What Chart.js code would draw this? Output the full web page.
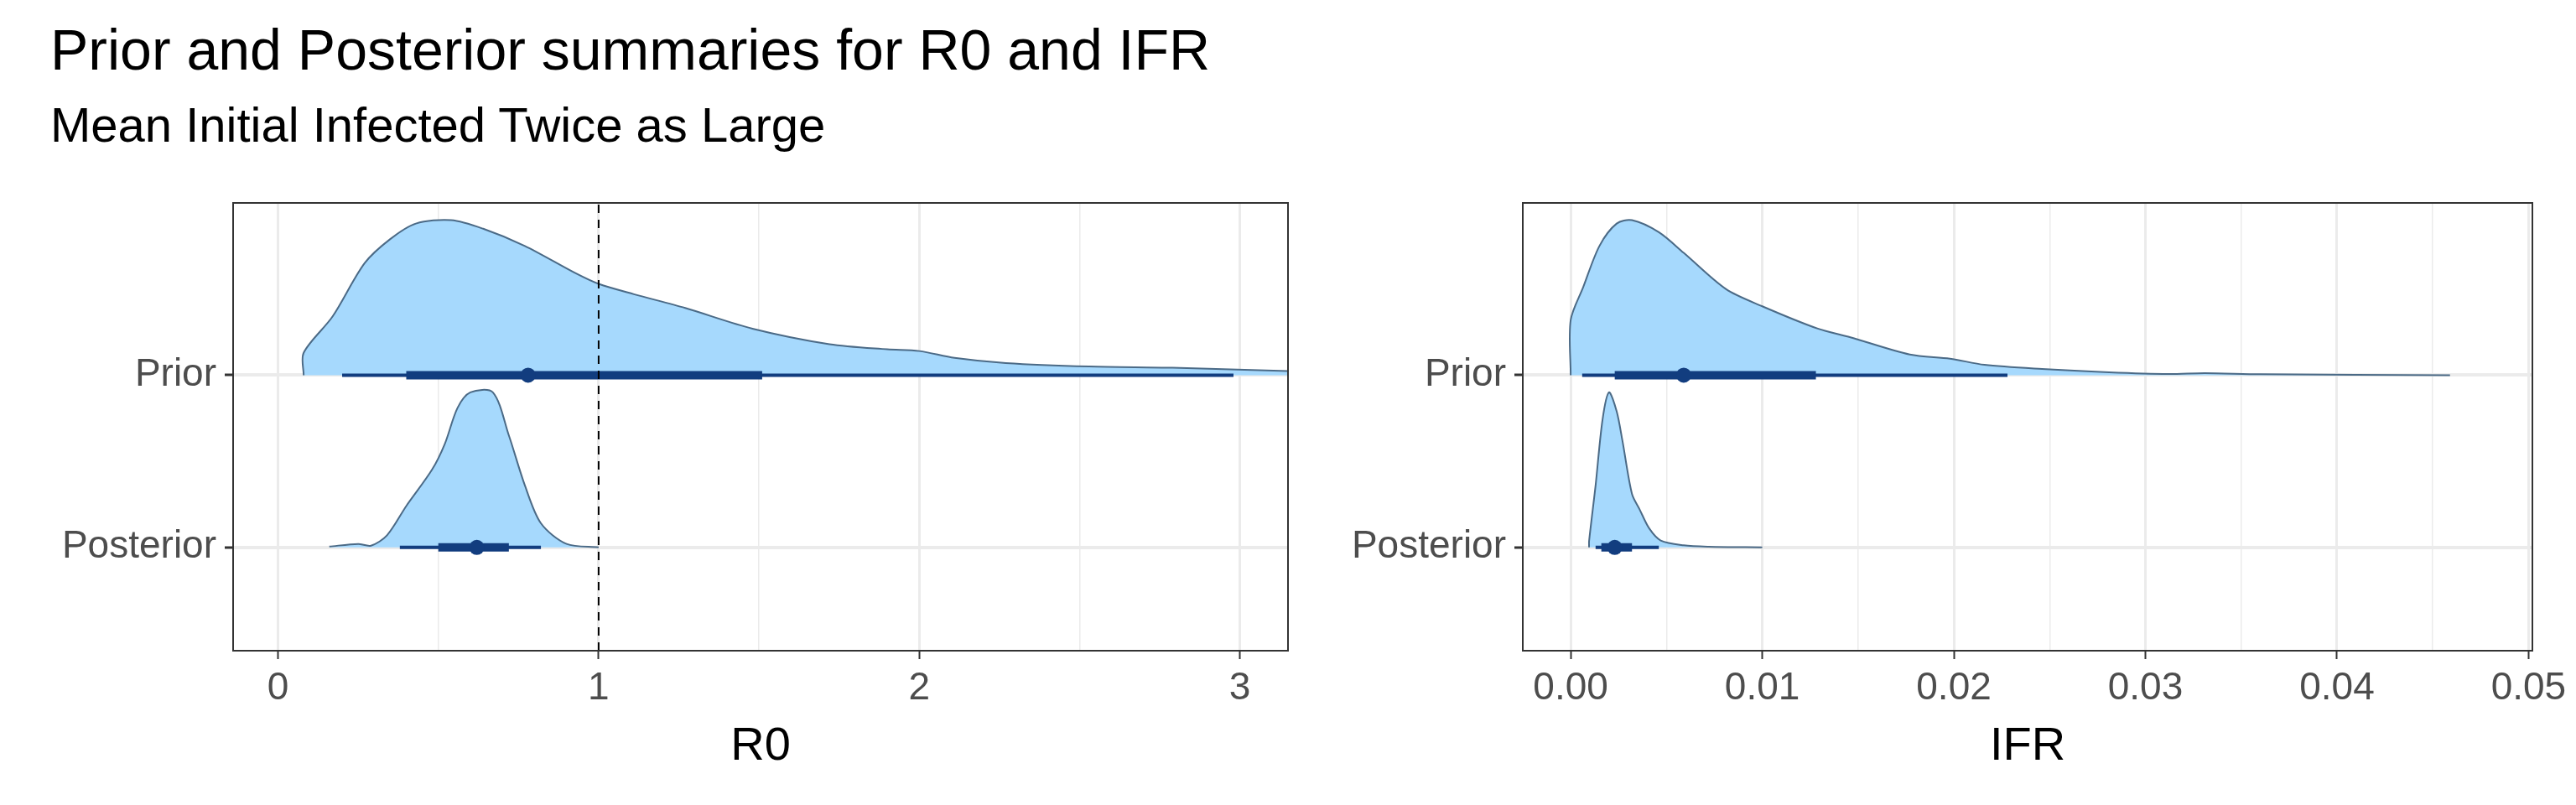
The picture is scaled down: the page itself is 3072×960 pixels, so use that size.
<!DOCTYPE html>
<html>
<head>
<meta charset="utf-8">
<script src="https://cdn.jsdelivr.net/npm/chart.js@4"></script>
<style>
  body { margin:0; width:3072px; height:960px; background:#fff; position:relative; overflow:hidden; font-family:"Liberation Sans", Arial, sans-serif; }
  .t { position:absolute; left:60px; white-space:nowrap; color:#000; line-height:1.15; }
  #c1box { position:absolute; left:0; top:0; width:1546px; height:960px; }
  #c2box { position:absolute; left:1546px; top:0; width:1526px; height:960px; }
</style>
</head>
<body>
<div class="t" style="top:20px;font-size:68px;">Prior and Posterior summaries for R0 and IFR</div>
<div class="t" style="top:116px;font-size:58px;">Mean Initial Infected Twice as Large</div>
<div id="c1box"><canvas id="c1"></canvas></div>
<div id="c2box"><canvas id="c2"></canvas></div>
<script>
// categories (y positions: Posterior = 1, Prior = 2)
const categories = ["Posterior", "Prior"];

// R0 densities (x, scaled height)
const r0PriorX = [0.08, 0.08, 0.17, 0.27, 0.35, 0.43, 0.54, 0.64, 0.77, 0.93, 1.0, 1.11, 1.27, 1.48, 1.72, 1.90, 2.0, 2.11, 2.27, 2.53, 2.79, 3.15, 3.3];
const r0PriorH = [0, 0.13, 0.34, 0.65, 0.79, 0.88, 0.90, 0.85, 0.75, 0.59, 0.53, 0.47, 0.39, 0.27, 0.18, 0.15, 0.14, 0.10, 0.07, 0.05, 0.043, 0.024, 0.02];
const r0PostX = [0.16, 0.25, 0.29, 0.34, 0.40, 0.48, 0.52, 0.56, 0.60, 0.67, 0.72, 0.77, 0.82, 0.90, 1.0];
const r0PostH = [0.005, 0.02, 0.01, 0.07, 0.24, 0.45, 0.60, 0.81, 0.90, 0.90, 0.65, 0.36, 0.14, 0.02, 0];
// R0 intervals: [thin lo, thin hi, thick lo, thick hi, point]
const r0PriorInt = [0.2, 2.98, 0.4, 1.51, 0.78];
const r0PostInt = [0.38, 0.82, 0.5, 0.72, 0.62];

// IFR densities
const ifrPriorX = [0, 0, 0.00065, 0.0015, 0.0024, 0.0032, 0.0046, 0.0059, 0.0081, 0.01, 0.0129, 0.0146, 0.0177, 0.0198, 0.0216, 0.0246, 0.0281, 0.0312, 0.0331, 0.036, 0.0459];
const ifrPriorH = [0, 0.32, 0.51, 0.75, 0.88, 0.90, 0.83, 0.71, 0.50, 0.40, 0.27, 0.22, 0.12, 0.096, 0.06, 0.036, 0.017, 0.007, 0.012, 0.005, 0];
const ifrPostX = [0.00096, 0.00096, 0.0013, 0.00166, 0.002, 0.0024, 0.0027, 0.0032, 0.0036, 0.0041, 0.0047, 0.0059, 0.0072, 0.01];
const ifrPostH = [0, 0.036, 0.36, 0.74, 0.90, 0.79, 0.62, 0.31, 0.22, 0.11, 0.04, 0.012, 0.004, 0];
const ifrPriorInt = [0.0006, 0.0228, 0.0023, 0.0128, 0.0059];
const ifrPostInt = [0.0013, 0.0046, 0.0016, 0.0032, 0.0023];

// tick labels
const r0Ticks = [0, 0.5, 1, 1.5, 2, 2.5, 3];
const ifrTicks = [0, 0.005, 0.01, 0.015, 0.02, 0.025, 0.03, 0.035, 0.04, 0.045, 0.05];

const FILL = "#a6d9fd", EDGE = "#4b6a86", BLUE = "#123d7f";

function density(xs, hs, base) {
  return {
    type: "line", data: xs.map((x, i) => ({x: x, y: base + hs[i]})),
    borderColor: EDGE, borderWidth: 2, backgroundColor: FILL,
    fill: {value: base}, pointRadius: 0, tension: 0.3, order: 5, clip: 0
  };
}
function intervals(iv, base) {
  return [
    {type: "line", data: [{x: iv[0], y: base}, {x: iv[1], y: base}], borderColor: BLUE, borderWidth: 4, pointRadius: 0, order: 2, clip: 0},
    {type: "line", data: [{x: iv[2], y: base}, {x: iv[3], y: base}], borderColor: BLUE, borderWidth: 10, pointRadius: 0, order: 1, clip: 0},
    {type: "scatter", data: [{x: iv[4], y: base}], backgroundColor: BLUE, borderWidth: 0, pointRadius: 9, order: 0}
  ];
}

const frame = {
  id: "frame",
  afterDraw(chart) {
    const a = chart.chartArea, ctx = chart.ctx;
    ctx.save(); ctx.strokeStyle = "#333"; ctx.lineWidth = 2;
    ctx.strokeRect(a.left, a.top, a.right - a.left, a.bottom - a.top);
    ctx.restore();
  }
};

function makeChart(id, datasets, xmin, xmax, ticks, major, fmt, title, yw, padRight) {
  return new Chart(id, {
    data: {datasets: datasets},
    plugins: [frame],
    options: {
      responsive: true, maintainAspectRatio: false, animation: false, devicePixelRatio: 1,
      layout: {padding: {top: 242, right: padRight, left: 0, bottom: 0}},
      plugins: {legend: {display: false}, tooltip: {enabled: false}},
      scales: {
        x: {
          type: "linear", min: xmin, max: xmax,
          afterBuildTicks: s => { s.ticks = ticks.map(v => ({value: v})); },
          afterFit: s => { s.height = 184; },
          grid: {
            color: "#ebebeb", drawTicks: true, tickLength: 10,
            lineWidth: c => major(c.tick.value) ? 3 : 1.5,
            tickColor: c => major(c.tick.value) ? "#333" : "rgba(0,0,0,0)",
            tickWidth: 2
          },
          border: {display: false},
          ticks: {
            color: "#4d4d4d", padding: 8, maxRotation: 0, autoSkip: false,
            font: {family: "Liberation Sans", size: 46},
            callback: v => major(v) ? fmt(v) : ""
          },
          title: {display: true, text: title, color: "#000", font: {family: "Liberation Sans", size: 56}, padding: {top: 0, bottom: 36}}
        },
        y: {
          type: "linear", min: 0.4, max: 3.0,
          afterBuildTicks: s => { s.ticks = [{value: 1}, {value: 2}]; },
          afterFit: s => { s.width = yw; },
          grid: {color: "#ebebeb", lineWidth: 4, tickLength: 10, tickColor: "#333", tickWidth: 3},
          border: {display: false},
          ticks: {
            color: "#4d4d4d", padding: 10,
            font: {family: "Liberation Sans", size: 46},
            callback: v => categories[v - 1]
          }
        }
      }
    }
  });
}

const isInt = v => Math.abs(v - Math.round(v)) < 1e-9;
const isCent = v => Math.abs(v * 100 - Math.round(v * 100)) < 1e-9;

makeChart("c1", [
  density(r0PriorX, r0PriorH, 2),
  density(r0PostX, r0PostH, 1),
  ...intervals(r0PriorInt, 2),
  ...intervals(r0PostInt, 1),
  {type: "line", data: [{x: 1, y: 0.4}, {x: 1, y: 3}], borderColor: "#000", borderWidth: 2, borderDash: [10, 8], pointRadius: 0, order: -1}
], -0.14, 3.15, r0Ticks, isInt, v => String(v), "R0", 278, 10);

makeChart("c2", [
  density(ifrPriorX, ifrPriorH, 2),
  density(ifrPostX, ifrPostH, 1),
  ...intervals(ifrPriorInt, 2),
  ...intervals(ifrPostInt, 1)
], -0.0025, 0.0502, ifrTicks, isCent, v => v.toFixed(2), "IFR", 270, 52);
</script>
</body>
</html>
